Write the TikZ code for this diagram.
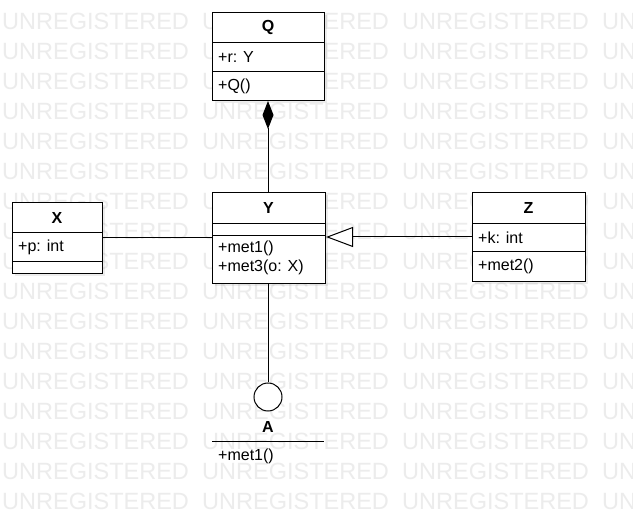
\documentclass[tikz,border=0pt]{standalone}
\usepackage{fontspec}
\setmainfont{Liberation Sans}
\usetikzlibrary{arrows.meta}
\definecolor{wm}{RGB}{236,236,236}
\begin{document}
\begin{tikzpicture}[x=1pt,y=-1pt,
  classbox/.style={draw=black,line width=1pt,fill=white,rectangle,inner sep=0pt,anchor=north west},
  shadowbox/.style={fill=black,opacity=0.07},
  ttl/.style={font=\fontsize{16}{19}\selectfont\bfseries,anchor=center,inner sep=0pt},
  mem/.style={font=\fontsize{16}{19}\selectfont,anchor=west,inner sep=0pt},
  wmtext/.style={font=\fontsize{23.5}{28}\selectfont,text=wm,anchor=base west,inner sep=0pt},
  conn/.style={draw=black,line width=1pt}]
\useasboundingbox (0,0) rectangle (633,521);
\fill[white] (0,0) rectangle (633,521);
% watermark
\foreach \r in {0,...,16}{
  \foreach \c in {0,1,2,3}{
    \node[wmtext] (wm-\r-\c) at ({2+200*\c},{30+30*\r}) {UNREGISTERED};
  }
}
% shadows
\fill[shadowbox] (215,15) rectangle (327,103);
\fill[shadowbox] (215,195) rectangle (328,286);
\fill[shadowbox] (15,205) rectangle (105,276);
\fill[shadowbox] (475,195) rectangle (588,284);
% Q
\node[classbox,minimum width=112pt,minimum height=88pt] (Q) at (212,12) {};
\draw[line width=1pt] (212,43) -- (324,43) (212,72) -- (324,72);
\node[ttl] (Qt) at (268,27.5) {Q};
\node[mem] (Qa) at (218,57.5) {+r: Y};
\node[mem] (Qo) at (218,86) {+Q()};
% Y
\node[classbox,minimum width=113pt,minimum height=91pt] (Y) at (212,192) {};
\draw[line width=1pt] (212,224) -- (325,224) (212,236) -- (325,236);
\node[ttl] (Yt) at (268.5,208) {Y};
\node[mem] (Yo1) at (218,248.5) {+met1()};
\node[mem] (Yo2) at (218,267) {+met3(o: X)};
% X
\node[classbox,minimum width=90pt,minimum height=71pt] (X) at (12,202) {};
\draw[line width=1pt] (12,233) -- (102,233) (12,262) -- (102,262);
\node[ttl] (Xt) at (57,217.5) {X};
\node[mem] (Xa) at (18,247.5) {+p: int};
% Z
\node[classbox,minimum width=113pt,minimum height=89pt] (Z) at (472,192) {};
\draw[line width=1pt] (472,224) -- (585,224) (472,252) -- (585,252);
\node[ttl] (Zt) at (528.5,208) {Z};
\node[mem] (Za) at (478,238) {+k: int};
\node[mem] (Zo) at (478,266) {+met2()};
% A interface
\node[draw=black,line width=1pt,fill=white,circle,minimum size=28pt,inner sep=0pt] (Ac) at (268,397) {};
\node[ttl] (At) at (268,427) {A};
\coordinate (AL) at (212,442);
\coordinate (AR) at (324,442);
\draw[line width=1pt] (AL) -- (AR);
\node[mem] (Ao) at (218,456) {+met1()};
% connectors
\draw[conn,-{Diamond[length=28pt,width=11pt,fill=black]}] (Y.north -| Qt) -- (Q.south -| Qt);
\draw[conn] (X.east) -- (X.east -| Y.west);
\draw[conn,-{Triangle[length=27pt,width=20pt,fill=white]}] (Z.west) -- (Z.west -| Y.east);
\draw[conn] (Y.south -| Ac) -- (Ac.north);
\end{tikzpicture}
\end{document}
